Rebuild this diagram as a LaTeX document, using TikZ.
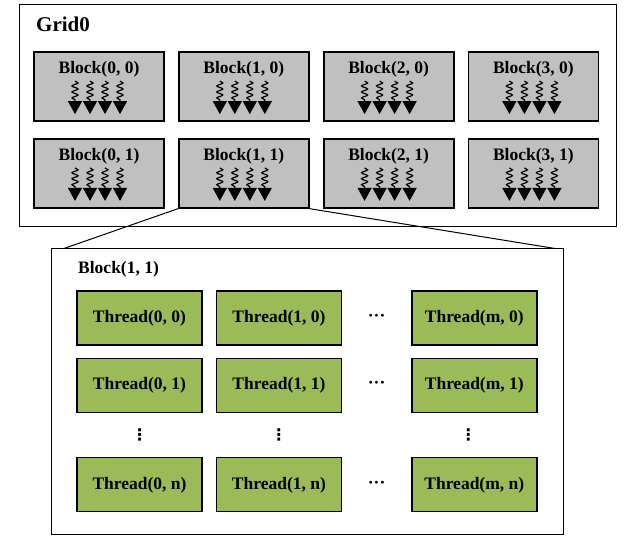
\documentclass[tikz,border=0pt]{standalone}
\usepackage{fontspec}
\setmainfont{Liberation Serif}
\newfontfamily\symbfont{DejaVu Sans}
\usetikzlibrary{positioning,arrows.meta,calc,decorations.pathmorphing}

\definecolor{thrgreen}{RGB}{155,187,89}
\definecolor{blkgray}{RGB}{192,192,192}

\begin{document}
\begin{tikzpicture}[
    x = 1pt, y = -1pt,
    node distance = 16pt and 13pt,
    frame/.style  = {draw, line width=1pt, inner sep=0pt},
    blk/.style    = {draw, line width=1.8pt, fill=blkgray, minimum width=130pt,
                     inner sep=0pt, text height=22pt, text depth=47pt,
                     font=\bfseries\fontsize{17.5}{20}\selectfont},
    thr/.style    = {draw, line width=1.4pt, fill=thrgreen, minimum width=125pt,
                     minimum height=54pt, inner sep=0pt,
                     font=\bfseries\fontsize{17.5}{20}\selectfont},
    wave/.style   = {line width=1.2pt, decorate,
                     decoration={snake, amplitude=3pt, segment length=6pt,
                                 post length=13pt},
                     -{Triangle[length=13pt, width=14pt]}},
    dots/.style   = {inner sep=0pt, font=\bfseries\fontsize{17.5}{20}\selectfont},
    vdots/.style  = {inner sep=0pt, font=\symbfont\bfseries\fontsize{16}{18}\selectfont},
    title/.style  = {anchor=west, inner sep=0pt,
                     font=\bfseries\fontsize{17.5}{20}\selectfont},
]
\useasboundingbox (0,0) rectangle (625,537);

% --- the grid ---
\node[frame, minimum width=597pt, minimum height=222pt] (grid) at (317.5,116) {};
\node[title, font=\bfseries\fontsize{21}{24}\selectfont] (gridlbl) at (36,24) {Grid0};

% --- blocks of the grid ---
\node[blk] (b00) at (99,86.5) {Block(0, 0)};
\node[blk, right=of b00] (b10) {Block(1, 0)};
\node[blk, right=of b10] (b20) {Block(2, 0)};
\node[blk, right=of b20] (b30) {Block(3, 0)};
\node[blk, below=of b00] (b01) {Block(0, 1)};
\node[blk, below=of b10] (b11) {Block(1, 1)};
\node[blk, below=of b20] (b21) {Block(2, 1)};
\node[blk, below=of b30] (b31) {Block(3, 1)};

% --- threads inside each block ---
\foreach \b in {b00,b10,b20,b30,b01,b11,b21,b31}
  \foreach \dx in {-24,-9,6,21}
    \draw[wave] ([shift={(\dx,30)}]\b.north) -- ++(0,33);

% --- zoomed block ---
\node[frame, minimum width=512pt, minimum height=286pt] (blkbox) at (307.5,392) {};
\node[title] (blkbox-lbl) at (78,269) {Block(1, 1)};

\coordinate (zl) at ([xshift=13pt]blkbox.north west);
\coordinate (zr) at ([xshift=-9pt]blkbox.north east);
\draw[line width=1pt] (b11.south west) -- (zl);
\draw[line width=1pt] (b11.south east) -- (zr);

% --- threads of the block ---
\node[thr] (t00) at (139.5,318) {Thread(0, 0)};
\node[thr, right=of t00] (t10) {Thread(1, 0)};
\node[thr, right=69pt of t10] (tm0) {Thread(m, 0)};
\node[thr, below=12pt of t00] (t01) {Thread(0, 1)};
\node[thr, below=12pt of t10] (t11) {Thread(1, 1)};
\node[thr, below=12pt of tm0] (tm1) {Thread(m, 1)};
\node[thr, below=44pt of t01] (t0n) {Thread(0, n)};
\node[thr, below=44pt of t11] (t1n) {Thread(1, n)};
\node[thr, below=44pt of tm1] (tmn) {Thread(m, n)};

% --- dots ---
\node[dots] (h0) at ($(t10)!0.5!(tm0)$) {···};
\node[dots] (h1) at ($(t11)!0.5!(tm1)$) {···};
\node[dots] (hn) at ($(t1n)!0.5!(tmn)$) {···};
\node[vdots] (v0) at ($(t01)!0.5!(t0n)$) {⋮};
\node[vdots] (v1) at ($(t11)!0.5!(t1n)$) {⋮};
\node[vdots] (vm) at ($(tm1)!0.5!(tmn) + (-6,0)$) {⋮};

\end{tikzpicture}
\end{document}
